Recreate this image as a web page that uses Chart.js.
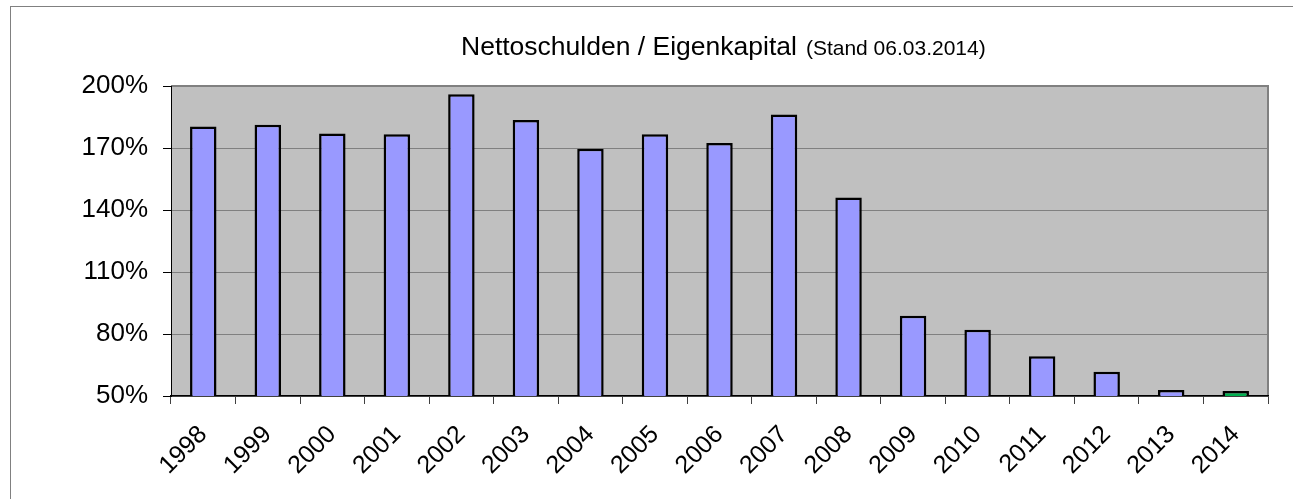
<!DOCTYPE html>
<html lang="de">
<head>
<meta charset="utf-8">
<title>Nettoschulden / Eigenkapital</title>
<script src="https://cdn.jsdelivr.net/npm/chart.js@4"></script>
<style>
    html, body { margin: 0; padding: 0; background: #fff; overflow: hidden; }
    #rahmen { position: absolute; left: 10px; top: 6px; width: 1400px; height: 600px; border: 1px solid #808080; }
    #chartBox { position: absolute; left: 0; top: 0; width: 1293px; height: 499px; }
</style>
</head>
<body>
<div id="rahmen"></div>
<div id="chartBox"><canvas id="grafik"></canvas></div>
<script>
const jahre = ['1998', '1999', '2000', '2001', '2002', '2003', '2004', '2005', '2006',
    '2007', '2008', '2009', '2010', '2011', '2012', '2013', '2014'];
// Nettoschulden / Eigenkapital in %
const quoten = [180.4, 181.2, 177, 176.7, 196, 183.5, 169.6, 176.7, 172.4,
    186.2, 146.1, 88.8, 82, 69.2, 61.7, 52.9, 52.4];
const yTicks = [50, 80, 110, 140, 170, 200];
const titel = 'Nettoschulden / Eigenkapital';
const untertitel = '(Stand 06.03.2014)';
const aktuellesJahr = '2014';

const schrift = '"Liberation Sans", Arial, sans-serif';

// grauer Hintergrund + Rahmen der Zeichenflaeche
const hintergrund = {
    id: 'hintergrund',
    beforeDraw: (chart) => {
        const { ctx, chartArea: a } = chart;
        ctx.save();
        ctx.fillStyle = '#c0c0c0';
        ctx.fillRect(a.left, a.top, a.right - a.left, a.bottom - a.top);
        ctx.strokeStyle = '#808080';
        ctx.lineWidth = 2;
        ctx.beginPath();
        ctx.moveTo(a.left, a.top);
        ctx.lineTo(a.right, a.top);
        ctx.lineTo(a.right, a.bottom);
        ctx.stroke();
        ctx.restore();
    }
};

// Titel mit kleinerem Zusatz in einer Zeile
const titelPlugin = {
    id: 'titelZeile',
    afterDraw: (chart) => {
        const { ctx, chartArea: a } = chart;
        ctx.save();
        ctx.fillStyle = '#000';
        ctx.textBaseline = 'alphabetic';
        ctx.textAlign = 'left';
        ctx.font = '26.5px ' + schrift;
        const w1 = ctx.measureText(titel).width;
        ctx.font = '21px ' + schrift;
        const w2 = ctx.measureText(untertitel).width;
        const luecke = 9;
        const start = 461;
        ctx.font = '26.5px ' + schrift;
        ctx.fillText(titel, start, 55);
        ctx.font = '21px ' + schrift;
        ctx.fillText(untertitel, start + w1 + luecke, 55);
        ctx.restore();
    }
};

new Chart(document.getElementById('grafik'), {
    type: 'bar',
    data: {
        labels: jahre,
        datasets: [{
            label: 'Nettoschulden / Eigenkapital',
            data: quoten,
            backgroundColor: jahre.map(j => j === aktuellesJahr ? '#00b050' : '#9999ff'),
            borderColor: '#000',
            borderWidth: 2.5,
            borderSkipped: false,
            barPercentage: 0.41,
            categoryPercentage: 1
        }]
    },
    options: {
        responsive: true,
        maintainAspectRatio: false,
        animation: false,
        layout: { padding: { top: 86, right: 25, left: 0, bottom: 0 } },
        plugins: {
            legend: { display: false },
            title: { display: false },
            tooltip: { enabled: false }
        },
        scales: {
            x: {
                offset: true,
                grid: {
                    offset: true,
                    drawOnChartArea: false,
                    drawTicks: true,
                    tickLength: 8,
                    color: '#404040'
                },
                border: { display: true, color: '#000', width: 1.5 },
                ticks: {
                    color: '#000',
                    font: { family: schrift, size: 25 },
                    minRotation: 45,
                    maxRotation: 45,
                    padding: 16
                },
                afterFit: (s) => { s.height = 103; }
            },
            y: {
                min: 50,
                max: 200,
                afterBuildTicks: (s) => { s.ticks = yTicks.map(v => ({ value: v })); },
                grid: {
                    color: '#808080',
                    lineWidth: 1,
                    drawTicks: true,
                    tickLength: 8,
                    tickColor: '#000'
                },
                border: { display: true, color: '#000', width: 1 },
                ticks: {
                    color: '#000',
                    font: { family: schrift, size: 26 },
                    padding: 15,
                    callback: (v) => v + '%'
                },
                afterFit: (s) => { s.width = 171; }
            }
        }
    },
    plugins: [hintergrund, titelPlugin]
});
</script>
</body>
</html>
